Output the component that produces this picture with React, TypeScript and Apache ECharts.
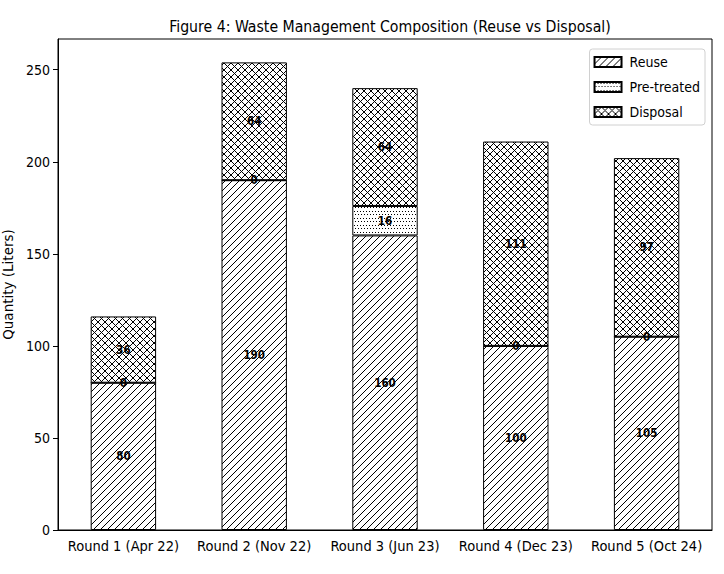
import React, { useEffect, useRef } from "react";
import * as echarts from "echarts";

const categories = ["Round 1 (Apr 22)", "Round 2 (Nov 22)", "Round 3 (Jun 23)", "Round 4 (Dec 23)", "Round 5 (Oct 24)"];
const reuse = [80, 190, 160, 100, 105];
const preTreated = [0, 0, 16, 0, 0];
const disposal = [36, 64, 64, 111, 97];
const seriesNames = ["Reuse", "Pre-treated", "Disposal"];

function makePattern(kind: string): string {
  const s = 7;
  const c = document.createElement("canvas");
  c.width = kind === "dots" ? 6 : s;
  c.height = s;
  const ctx = c.getContext("2d")!;
  ctx.fillStyle = "#ffffff";
  ctx.fillRect(0, 0, c.width, c.height);
  ctx.fillStyle = "#000000";
  if (kind === "diag" || kind === "cross") {
    for (let i = 0; i < s; i++) {
      ctx.fillRect(i, s - 1 - i, 1, 1);
      if (kind === "cross") ctx.fillRect(i, i, 1, 1);
    }
  } else {
    ctx.fillRect(0, 1, 1, 1);
    ctx.fillRect(3, 1, 1, 1);
    ctx.fillRect(1, 4, 1, 1);
    ctx.fillRect(4, 4, 1, 1);
  }
  return c.toDataURL();
}

export default function App() {
  const ref = useRef<HTMLDivElement>(null);
  useEffect(() => {
    if (!ref.current) return;
    document.body.style.margin = "0";
    const chart = echarts.init(ref.current, null, { renderer: "svg" });
    const pats = [makePattern("diag"), makePattern("dots"), makePattern("cross")];
    const data = [reuse, preTreated, disposal];
    const font = "'DejaVu Sans Condensed', 'DejaVu Sans', sans-serif";
    chart.setOption({
      animation: false,
      backgroundColor: "#ffffff",
      title: {
        text: "Figure 4: Waste Management Composition (Reuse vs Disposal)",
        left: 385,
        textAlign: "center",
        top: 13,
        textStyle: { fontFamily: font, fontSize: 15.7, fontWeight: "normal", color: "#000" },
      },
      legend: {
        orient: "vertical",
        right: 19,
        top: 49,
        itemWidth: 27,
        itemHeight: 10,
        itemGap: 9,
        padding: [5, 5, 5, 4],
        borderColor: "#d0d0d0",
        borderWidth: 1,
        borderRadius: 3,
        icon: "rect",
        textStyle: { fontFamily: font, fontSize: 14, lineHeight: 16, color: "#000", padding: [0, 0, 0, 3] },
        data: seriesNames,
      },
      grid: {
        left: 58, right: 12, top: 39, bottom: 44,
        containLabel: false,
        outerBoundsMode: "none",
        show: true, borderColor: "#000", borderWidth: 1, backgroundColor: "transparent",
      },
      xAxis: {
        type: "category",
        data: categories,
        axisLine: { lineStyle: { color: "#000" } },
        axisTick: { alignWithLabel: true, length: 5, lineStyle: { color: "#000" } },
        axisLabel: { fontFamily: font, fontSize: 14.5, color: "#000", margin: 8, interval: 0 },
      },
      yAxis: {
        type: "value",
        min: 0,
        max: 266.7,
        interval: 50,
        name: "Quantity (Liters)",
        nameLocation: "middle",
        nameGap: 41,
        nameTextStyle: { fontFamily: "'DejaVu Sans', sans-serif", fontSize: 13.5, color: "#000000" },
        axisLine: { show: true, lineStyle: { color: "#000" } },
        axisTick: { show: true, length: 5, lineStyle: { color: "#000" } },
        splitLine: { show: false },
        axisLabel: { fontFamily: font, fontSize: 14, color: "#000", margin: 8, showMaxLabel: false },
      },
      series: seriesNames.map((name, i) => ({
        name,
        type: "bar",
        stack: "total",
        barWidth: "50%",
        data: data[i],
        itemStyle: {
          color: { image: pats[i], repeat: "repeat" },
          borderColor: "#000",
          borderWidth: 1,
        },
        label: {
          show: true,
          position: "inside",
          fontFamily: font,
          fontWeight: "bold",
          fontSize: 11.5,
          color: "#000",
        },
        emphasis: { disabled: true },
      })),
    });
    return () => chart.dispose();
  }, []);
  return <div ref={ref} style={{ position: "absolute", left: 0, top: 0, width: 724, height: 574 }} />;
}
